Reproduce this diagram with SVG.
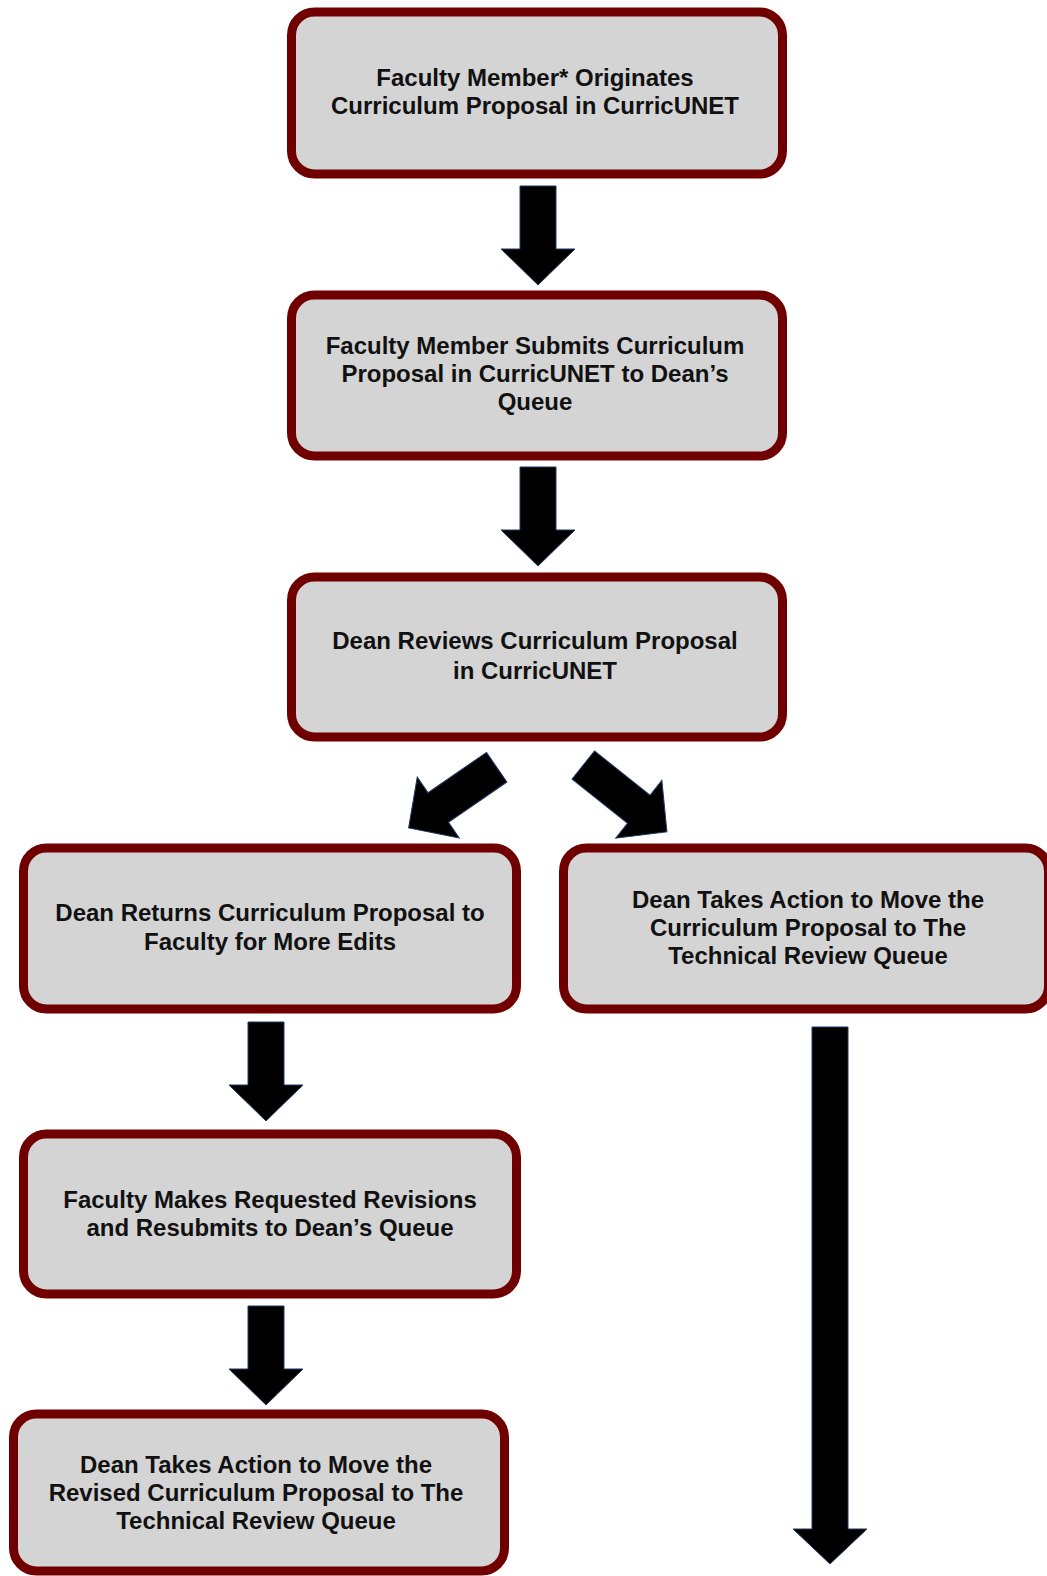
<svg xmlns="http://www.w3.org/2000/svg" width="1047" height="1576" viewBox="0 0 1047 1576">
<defs>
<style>
.box{fill:#d4d4d4;stroke:#700000;stroke-width:9}
.t{font-family:"Liberation Sans",Arial,sans-serif;font-weight:bold;font-size:24px;fill:#111;text-anchor:middle}
.arr{fill:#000;stroke:#1f3a66;stroke-width:1;stroke-linejoin:miter}
</style>
<path id="a100" d="M-18,0 H18 V63 H37 L0,99 L-37,63 H-18 Z"/>
<path id="a107" d="M-18,0 H18 V71 H37 L0,107 L-37,71 H-18 Z"/>
</defs>
<rect width="1047" height="1576" fill="#fff"/>
<g id="connectors">
<use href="#a100" class="arr" transform="translate(538,186)"/>
<use href="#a100" class="arr" transform="translate(538,467)"/>
<use href="#a107" class="arr" transform="translate(496.7,767.2) rotate(55.4)"/>
<use href="#a107" class="arr" transform="translate(583.3,765) rotate(-51.4)"/>
<use href="#a100" class="arr" transform="translate(266,1022)"/>
<use href="#a100" class="arr" transform="translate(266,1306)"/>
<path class="arr" d="M812,1027 H848 V1529 H867 L830,1564 L793,1529 H812 Z"/>
</g>
<g id="n1">
<rect class="box" x="291.5" y="12" width="491" height="162" rx="23"/>
<text class="t" x="535" y="86">Faculty Member* Originates</text>
<text class="t" x="535" y="114">Curriculum Proposal in CurricUNET</text>
</g>
<g id="n2">
<rect class="box" x="291.5" y="295" width="491" height="161" rx="23"/>
<text class="t" x="535" y="354">Faculty Member Submits Curriculum</text>
<text class="t" x="535" y="382">Proposal in CurricUNET to Dean’s</text>
<text class="t" x="535" y="410">Queue</text>
</g>
<g id="n3">
<rect class="box" x="291.5" y="577" width="491" height="160" rx="23"/>
<text class="t" x="535" y="649">Dean Reviews Curriculum Proposal</text>
<text class="t" x="535" y="679">in CurricUNET</text>
</g>
<g id="n4">
<rect class="box" x="23.5" y="848" width="493" height="161" rx="23"/>
<text class="t" x="270" y="921">Dean Returns Curriculum Proposal to</text>
<text class="t" x="270" y="950">Faculty for More Edits</text>
</g>
<g id="n5">
<rect class="box" x="563.5" y="848" width="485" height="161" rx="23"/>
<text class="t" x="808" y="908">Dean Takes Action to Move the</text>
<text class="t" x="808" y="936">Curriculum Proposal to The</text>
<text class="t" x="808" y="964">Technical Review Queue</text>
</g>
<g id="n6">
<rect class="box" x="23.5" y="1134" width="493" height="160" rx="23"/>
<text class="t" x="270" y="1208">Faculty Makes Requested Revisions</text>
<text class="t" x="270" y="1236">and Resubmits to Dean’s Queue</text>
</g>
<g id="n7">
<rect class="box" x="13.5" y="1414" width="491" height="157" rx="23"/>
<text class="t" x="256" y="1473">Dean Takes Action to Move the</text>
<text class="t" x="256" y="1501">Revised Curriculum Proposal to The</text>
<text class="t" x="256" y="1529">Technical Review Queue</text>
</g>
</svg>
